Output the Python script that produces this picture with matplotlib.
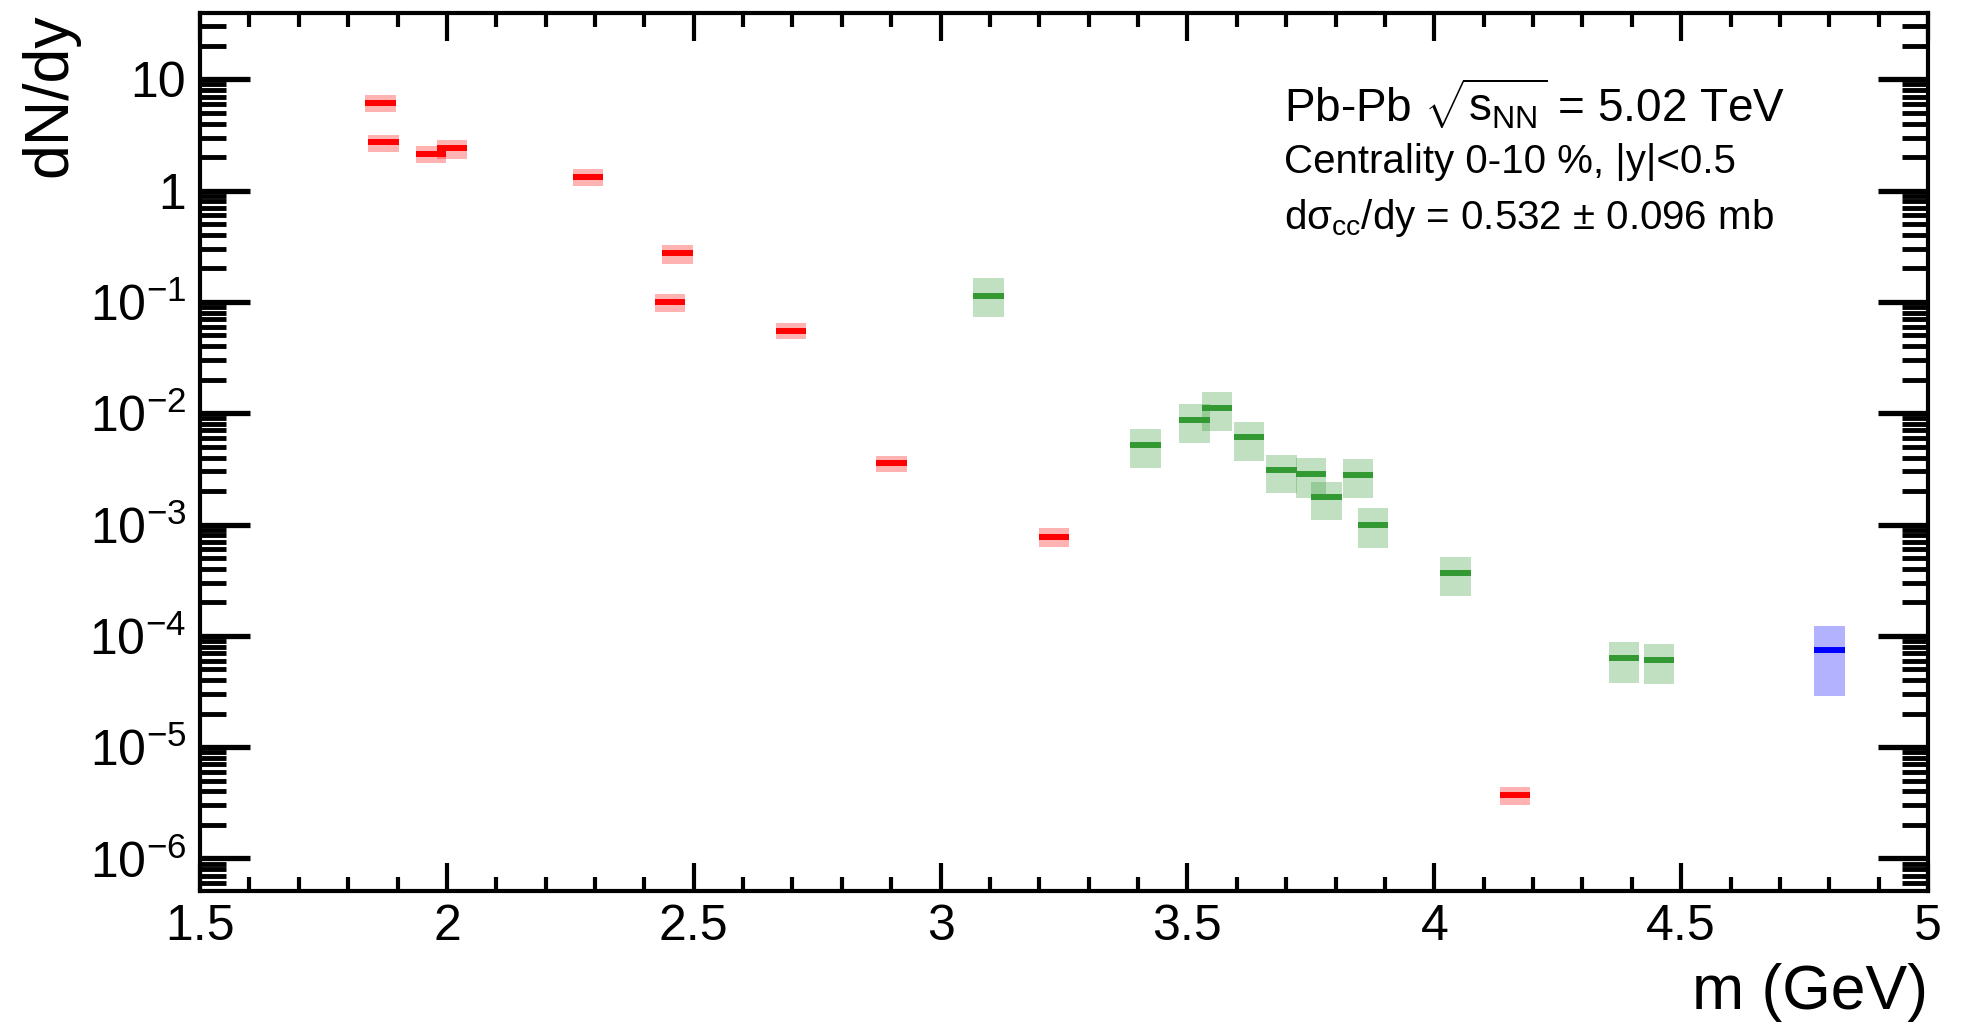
"""dN/dy of charm hadrons vs mass, Pb-Pb 0-10 %: a value line inside a light uncertainty box per state."""
import math

import matplotlib
matplotlib.use("Agg")
import matplotlib.pyplot as plt
from matplotlib.ticker import FixedLocator, LogLocator, MultipleLocator, FuncFormatter, NullFormatter

FONT = "Liberation Sans"
plt.rcParams["font.family"] = [FONT, "DejaVu Sans"]
plt.rcParams["mathtext.fontset"] = "custom"
plt.rcParams["mathtext.rm"] = FONT
plt.rcParams["mathtext.it"] = FONT + ":italic"
plt.rcParams["mathtext.bf"] = FONT + ":bold"

# open charm (red)
OPEN_M = [1.866, 1.871, 1.968, 2.010, 2.286, 2.452, 2.467, 2.697, 2.900, 3.230, 4.163]
OPEN_Y = [6.17, 2.73, 2.14, 2.43, 1.32, 0.0995, 0.275, 0.0552, 3.55e-3, 7.8e-4, 3.72e-6]
OPEN_LO = [5.04, 2.21, 1.77, 1.92, 1.11, 0.0818, 0.218, 0.046, 2.95e-3, 6.32e-4, 3.04e-6]
OPEN_HI = [7.21, 3.14, 2.51, 2.86, 1.55, 0.117, 0.323, 0.065, 4.15e-3, 9.38e-4, 4.39e-6]

# charmonia (green)
ONIA_M = [3.097, 3.415, 3.514, 3.560, 3.625, 3.691, 3.750, 3.782, 3.845, 3.876, 4.043, 4.384, 4.455]
ONIA_Y = [0.114, 5.19e-3, 8.74e-3, 1.12e-2, 6.07e-3, 3.07e-3, 2.84e-3, 1.77e-3, 2.81e-3, 9.97e-4,
          3.66e-4, 6.27e-5, 6.05e-5]
ONIA_LO = [0.0733, 3.20e-3, 5.43e-3, 6.92e-3, 3.74e-3, 1.91e-3, 1.75e-3, 1.10e-3, 1.75e-3, 6.12e-4,
           2.29e-4, 3.81e-5, 3.71e-5]
ONIA_HI = [0.163, 7.16e-3, 1.20e-2, 1.54e-2, 8.34e-3, 4.22e-3, 3.99e-3, 2.43e-3, 3.85e-3, 1.40e-3,
           5.09e-4, 8.79e-5, 8.47e-5]

# multi-charm (blue)
MULTI_M = [4.80]
MULTI_Y = [7.48e-5]
MULTI_LO = [2.87e-5]
MULTI_HI = [1.22e-4]

BOX_W = 0.062
XLIM = (1.5, 5.0)
YLIM = (5.1e-7, 39.4)
Y_MAJOR = [1e-6, 1e-5, 1e-4, 1e-3, 1e-2, 1e-1, 1, 10]


def _draw_group(ax, m, y, lo, hi, col):
    """Light box spanning [lo, hi] plus a thick line at the central value."""
    for mi, yi, l, h in zip(m, y, lo, hi):
        ax.bar(mi, h - l, bottom=l, width=BOX_W, color=col, alpha=0.3, lw=0, zorder=2)
        ax.hlines(yi, mi - BOX_W / 2, mi + BOX_W / 2, color=col, lw=4.3, capstyle="butt", zorder=3)


def _ylab(v, _pos):
    if v >= 10:
        return "10"
    if v >= 1:
        return "1"
    return f"$10^{{{int(round(math.log10(v)))}}}$"


def main():
    fig = plt.figure(figsize=(19.63, 10.27), dpi=100)
    ax = fig.add_axes([0.1019, 0.1324, 0.8803, 0.8549])

    _draw_group(ax, OPEN_M, OPEN_Y, OPEN_LO, OPEN_HI, "#ff0000")
    _draw_group(ax, ONIA_M, ONIA_Y, ONIA_LO, ONIA_HI, "#339933")
    _draw_group(ax, MULTI_M, MULTI_Y, MULTI_LO, MULTI_HI, "#0000ff")

    ax.set_yscale("log")
    ax.set_xlim(*XLIM); ax.set_ylim(*YLIM)

    ax.xaxis.set_major_locator(MultipleLocator(0.5))
    ax.xaxis.set_minor_locator(MultipleLocator(0.1))
    ax.xaxis.set_major_formatter(FuncFormatter(lambda v, p: f"{v:g}"))
    ax.yaxis.set_major_locator(FixedLocator(Y_MAJOR))
    ax.yaxis.set_minor_locator(LogLocator(base=10, subs=range(2, 10), numticks=20))
    ax.yaxis.set_major_formatter(FuncFormatter(_ylab))
    ax.yaxis.set_minor_formatter(NullFormatter())

    ax.tick_params(which="both", direction="in", top=True, right=True, color="black")
    ax.tick_params(axis="x", which="major", length=20, width=3, pad=9, labelsize=36)
    ax.tick_params(axis="x", which="minor", length=10, width=3)
    ax.tick_params(axis="y", which="major", length=36, width=3.8, pad=10, labelsize=36)
    ax.tick_params(axis="y", which="minor", length=19, width=3.5)
    for s in ax.spines.values():
        s.set_linewidth(3)

    ax.text(-0.087, 1.0, "dN/dy", transform=ax.transAxes, rotation=90,
            ha="center", va="top", fontsize=45)
    ax.text(1.0, -0.134, "m (GeV)", transform=ax.transAxes,
            ha="right", va="baseline", fontsize=45)

    tx = 0.627
    ax.text(tx, 0.8765, r"Pb-Pb $\sqrt{\mathrm{s}_{\mathrm{NN}}}$ = 5.02 TeV", transform=ax.transAxes,
            ha="left", va="baseline", fontsize=33)
    ax.text(tx, 0.818, "Centrality 0-10 %, |y|<0.5", transform=ax.transAxes,
            ha="left", va="baseline", fontsize=29)
    ax.text(tx, 0.754, r"dσ$_{\mathrm{cc}}$/dy = 0.532 ± 0.096 mb", transform=ax.transAxes,
            ha="left", va="baseline", fontsize=29)

    fig.savefig("out.png", dpi=100)


if __name__ == "__main__":
    main()
